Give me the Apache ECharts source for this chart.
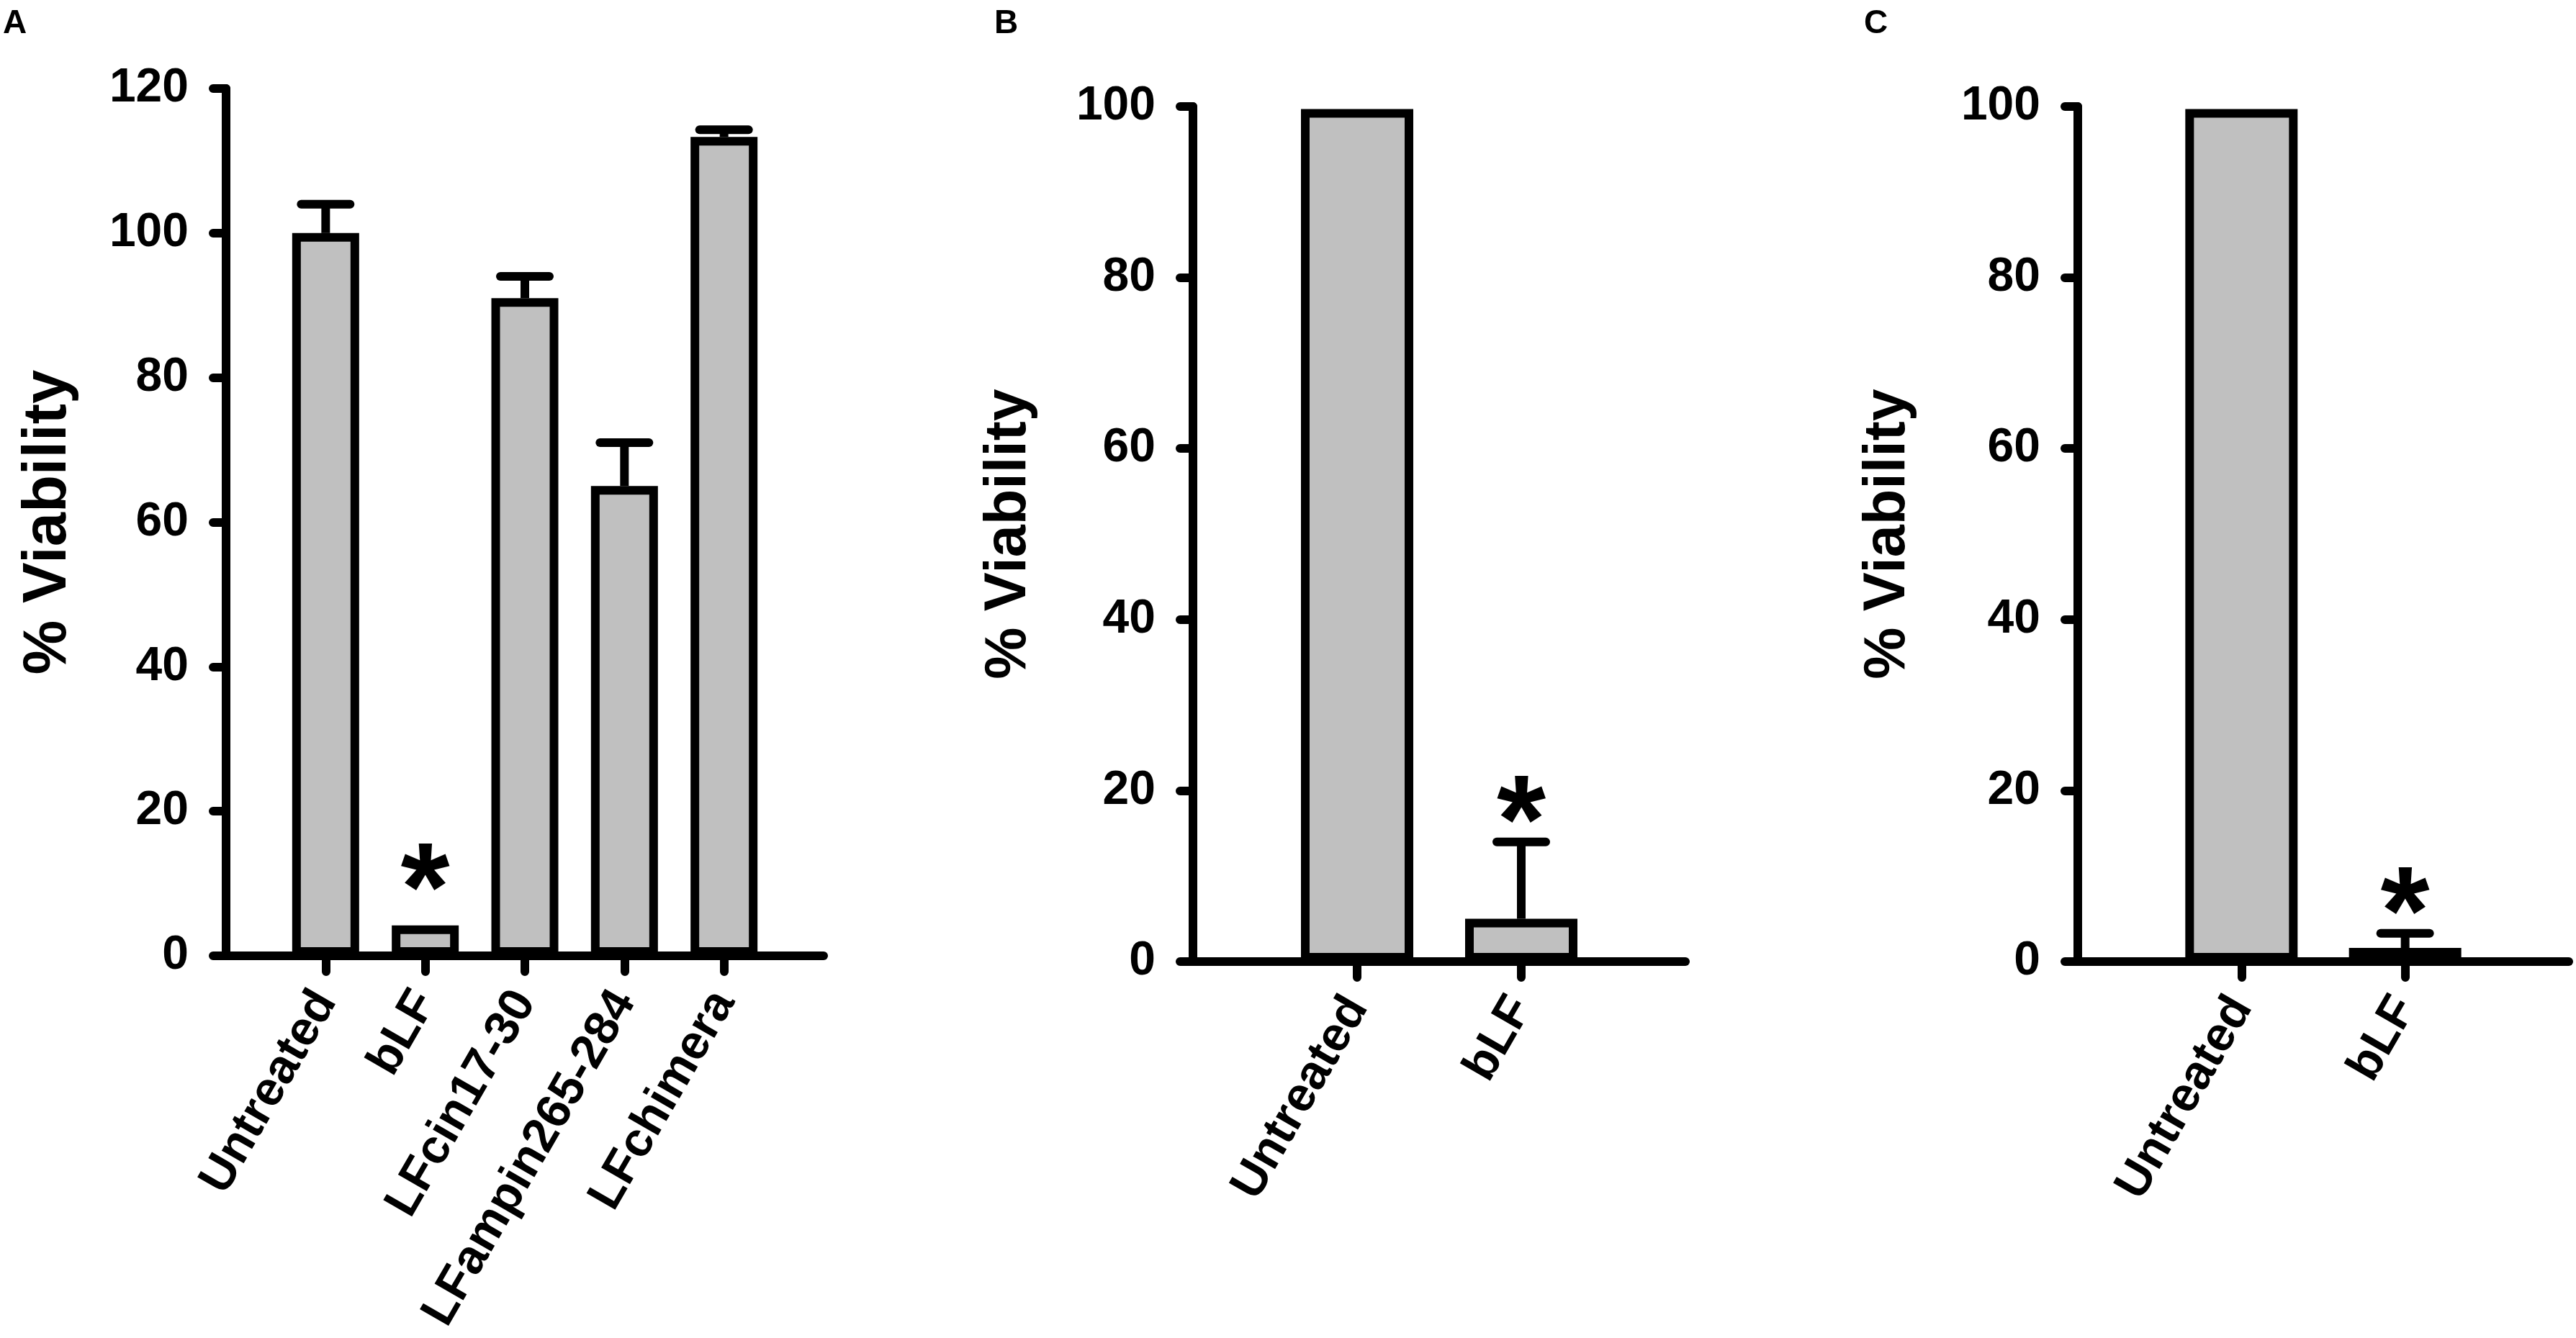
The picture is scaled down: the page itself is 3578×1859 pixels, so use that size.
<!DOCTYPE html>
<html>
<head>
<meta charset="utf-8">
<script src="https://cdn.jsdelivr.net/npm/echarts@6/dist/echarts.min.js"></script>
<style>
html,body{margin:0;padding:0;background:#fff;}
#chart{width:3578px;height:1859px;}
</style>
</head>
<body>
<div id="chart"></div>
<script>
// ---- data ----
const catsA = ['Untreated', 'bLF', 'LFcin17-30', 'LFampin265-284', 'LFchimera'];
const valsA = [100, 4.2, 91, 65, 113.3];
const errA  = [4, 0, 3, 6, 1];
const sigA  = [false, true, false, false, false];

const catsB = ['Untreated', 'bLF'];
const valsB = [99.7, 5];
const errB  = [0, 9];
const sigB  = [false, true];

const catsC = ['Untreated', 'bLF'];
const valsC = [99.7, 1.6];
const errC  = [0, 1.7];
const sigC  = [false, true];

const yMaxA = 120, yMaxB = 100, yMaxC = 100, yStep = 20;
const panelLabels = ['A', 'B', 'C'];
const yTitle = '% Viability';

// ---- styling ----
const FONT = '"Liberation Sans", Arial, Helvetica, sans-serif';
const LW = 12;
const panels = [
  {cats: catsA, vals: valsA, errs: errA, sig: sigA, yMax: yMaxA,
   grid: {left: 314, top: 123, width: 830, height: 1205}, barWidth: 93, nameGap: 204, nameSize: 85,
   label: {left: 4, top: 10}, starGap: 42},
  {cats: catsB, vals: valsB, errs: errB, sig: sigB, yMax: yMaxB,
   grid: {left: 1657, top: 148, width: 684, height: 1188}, barWidth: 156, nameGap: 215, nameSize: 81,
   label: {left: 1381, top: 10}, starGap: 20},
  {cats: catsC, vals: valsC, errs: errC, sig: sigC, yMax: yMaxC,
   grid: {left: 2886, top: 148, width: 682, height: 1188}, barWidth: 156, nameGap: 223, nameSize: 81,
   label: {left: 2589, top: 10}, starGap: 20}
];

const option = {
  backgroundColor: '#fff',
  animation: false,
  title: [], grid: [], xAxis: [], yAxis: [], series: []
};

panels.forEach((p, k) => {
  const padded = [''].concat(p.cats, ['']);
  const n = padded.length;
  option.title.push({
    text: panelLabels[k], left: p.label.left, top: p.label.top, padding: 0,
    textStyle: {fontFamily: FONT, fontWeight: 'bold', fontSize: 46, color: '#000'}
  });
  option.grid.push(Object.assign({containLabel: false, outerBoundsMode: 'none'}, p.grid));
  option.xAxis.push({
    type: 'category', gridIndex: k, data: padded, boundaryGap: false,
    axisLine: {show: true, onZero: true, lineStyle: {color: '#000', width: LW, cap: 'round'}},
    axisTick: {show: true, length: 22, interval: (i) => i > 0 && i < n - 1,
               lineStyle: {color: '#000', width: LW, cap: 'round'}},
    axisLabel: {interval: 0, rotate: 60, margin: 54, fontFamily: FONT, fontWeight: 'bold',
                fontSize: 67, color: '#000'},
    splitLine: {show: false}
  });
  option.yAxis.push({
    type: 'value', gridIndex: k, min: 0, max: p.yMax, interval: yStep,
    name: yTitle, nameLocation: 'middle', nameRotate: 90, nameGap: p.nameGap,
    nameTextStyle: {fontFamily: FONT, fontWeight: 'bold', fontSize: p.nameSize, color: '#000'},
    axisLine: {show: true, lineStyle: {color: '#000', width: LW, cap: 'round'}},
    axisTick: {show: true, length: 18, lineStyle: {color: '#000', width: LW, cap: 'round'}},
    axisLabel: {margin: 52, fontFamily: FONT, fontWeight: 'bold', fontSize: 66, color: '#000'},
    splitLine: {show: false}
  });
  const barData = ['-'].concat(p.vals, ['-']);
  option.series.push({
    type: 'bar', xAxisIndex: k, yAxisIndex: k, data: barData, barWidth: p.barWidth,
    itemStyle: {color: '#c0c0c0', borderColor: '#000', borderWidth: LW},
    z: 3
  });
  const errData = p.vals.map((v, i) => [i + 1, v, p.errs[i], p.sig[i] ? 1 : 0]);
  const starGap = p.starGap;
  option.series.push({
    type: 'custom', xAxisIndex: k, yAxisIndex: k, data: errData, z: 4,
    renderItem: (params, api) => {
      const x = api.value(0), v = api.value(1), e = api.value(2), s = api.value(3);
      const base = api.coord([x, v]);
      const top = api.coord([x, v + e]);
      const children = [];
      if (e > 0) {
        children.push({type: 'line', shape: {x1: base[0], y1: base[1], x2: top[0], y2: top[1]},
          style: {stroke: '#000', lineWidth: LW, lineCap: 'butt'}});
        children.push({type: 'line', shape: {x1: top[0] - 34, y1: top[1], x2: top[0] + 34, y2: top[1]},
          style: {stroke: '#000', lineWidth: LW, lineCap: 'round'}});
      }
      if (s) {
        children.push({type: 'text', x: top[0], y: top[1] - starGap,
          style: {text: '*', fill: '#000', fontFamily: FONT, fontWeight: 'bold', fontSize: 175,
                  textAlign: 'center', textVerticalAlign: 'middle'}});
      }
      return {type: 'group', children};
    }
  });
});

const chart = echarts.init(document.getElementById('chart'), null, {renderer: 'canvas'});
chart.setOption(option);
</script>
</body>
</html>
